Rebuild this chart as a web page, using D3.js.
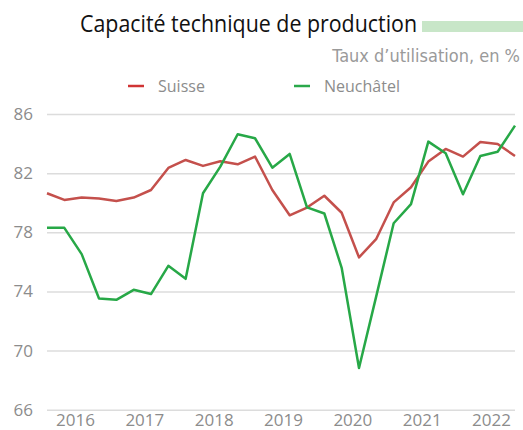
<!DOCTYPE html>
<html>
<head>
<meta charset="utf-8">
<script src="https://cdn.jsdelivr.net/npm/d3@7"></script>
<style>
  body { margin: 0; background: #fff; }
  svg { display: block; font-family: "Open Sans", sans-serif; }
</style>
</head>
<body>
<svg width="523" height="430"></svg>
<script>
// données trimestrielles 2016 T1 - 2022 T4
const years = ["2016", "2017", "2018", "2019", "2020", "2021", "2022"];
const quarters = years.flatMap(y => ["T1", "T2", "T3", "T4"].map(q => y + q));
const suisse = [80.64, 80.19, 80.35, 80.28, 80.12, 80.35, 80.86, 82.35,
                82.89, 82.49, 82.80, 82.60, 83.12, 80.86, 79.15, 79.67,
                80.47, 79.32, 76.30, 77.56, 80.02, 81.05, 82.78, 83.64,
                83.12, 84.11, 83.97, 83.16];
const neuchatel = [78.30, 78.30, 76.52, 73.52, 73.43, 74.11, 73.82, 75.73,
                   74.85, 80.64, 82.44, 84.63, 84.36, 82.37, 83.30, 79.68,
                   79.27, 75.60, 68.82, 73.70, 78.61, 79.90, 84.13, 83.34,
                   80.57, 83.16, 83.45, 85.21];
const yTicks = [66, 70, 74, 78, 82, 86];
const series = [
  { name: "Suisse", values: suisse, color: "#c4504c", legend: "#d03434" },
  { name: "Neuchâtel", values: neuchatel, color: "#27a847", legend: "#2aa84a" }
];

const svg = d3.select("svg");
const area = { left: 47, right: 515, top: 114, bottom: 409.7 };

// échelles
const scX = d3.scalePoint().domain(quarters).range([area.left, area.right]);
const step = scX.step();
const scYear = d3.scaleBand().domain(years)
  .range([area.left - step / 2 + 2.5, area.right + step / 2 + 2.5]);
const scY = d3.scaleLinear().domain([66, 86]).range([area.bottom, area.top]);

// grille + axe vertical
const gy = svg.append("g")
  .attr("transform", `translate(${area.left},0)`)
  .call(d3.axisLeft(scY).tickValues(yTicks).tickSize(-(area.right - area.left)).tickPadding(14));
gy.select(".domain").remove();
gy.selectAll(".tick line").attr("stroke", "#dcdcdc").attr("stroke-width", 1.5);
gy.selectAll(".tick text").attr("fill", "#8c8c8c").style("font-size", "17px")
  .style("font-family", "Open Sans, sans-serif");

// axe horizontal (années)
const gx = svg.append("g")
  .attr("transform", `translate(0,${area.bottom})`)
  .call(d3.axisBottom(scYear).tickSize(0).tickPadding(4));
gx.select(".domain").remove();
gx.selectAll(".tick text").attr("fill", "#8c8c8c").style("font-size", "17px")
  .style("font-family", "Open Sans, sans-serif");

// courbes
const line = d3.line().x((d, i) => scX(quarters[i])).y(d => scY(d));
svg.selectAll(".serie")
  .data(series)
  .enter()
  .append("path")
  .attr("d", d => line(d.values))
  .attr("fill", "none")
  .attr("stroke", d => d.color)
  .attr("stroke-width", 2.5)
  .attr("stroke-linejoin", "round");

// titre
svg.append("text")
  .attr("x", 80).attr("y", 31.5)
  .attr("textLength", 337).attr("lengthAdjust", "spacingAndGlyphs")
  .style("font-size", "23px").attr("fill", "#111")
  .text("Capacité technique de production");
svg.append("rect")
  .attr("x", 422).attr("y", 21).attr("width", 101).attr("height", 11)
  .attr("fill", "#c8e6c8");
svg.append("text")
  .attr("x", 520).attr("y", 61.5)
  .attr("text-anchor", "end")
  .style("font-family", "'Liberation Sans Narrow', 'DejaVu Sans Condensed', sans-serif")
  .style("font-size", "18px").attr("fill", "#9a9a9a")
  .text("Taux d’utilisation, en %");

// légende
const legX = [128, 294];
const leg = svg.selectAll(".leg")
  .data(series)
  .enter()
  .append("g")
  .attr("transform", (d, i) => `translate(${legX[i]},86)`);
leg.append("line")
  .attr("x1", 0).attr("x2", 16).attr("y1", 0).attr("y2", 0)
  .attr("stroke", d => d.legend).attr("stroke-width", 2.5);
leg.append("text")
  .attr("x", 30).attr("y", 6)
  .style("font-size", "16px").attr("fill", "#8c8c8c")
  .text(d => d.name);
</script>
</body>
</html>
